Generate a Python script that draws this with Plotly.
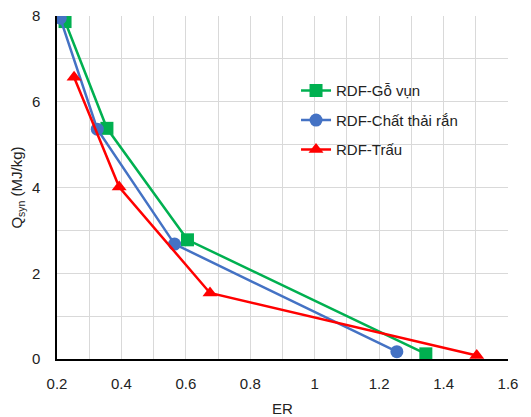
import plotly.graph_objects as go

er_go = [0.225, 0.355, 0.605, 1.345]
q_go = [7.87, 5.38, 2.78, 0.12]
er_ct = [0.21, 0.325, 0.565, 1.255]
q_ct = [7.95, 5.36, 2.68, 0.17]
er_tr = [0.253, 0.393, 0.675, 1.503]
q_tr = [6.57, 4.01, 1.54, 0.08]

names = ["RDF-Gỗ vụn", "RDF-Chất thải rắn", "RDF-Trấu"]
colors = ["#00b050", "#4472c4", "#ff0000"]
symbols = ["square", "circle", "triangle-up"]

fig = go.Figure()
for i, (x, y) in enumerate([(er_go, q_go), (er_ct, q_ct), (er_tr, q_tr)]):
    fig.add_trace(go.Scatter(
        x=x, y=y, name=names[i], mode="lines+markers",
        line=dict(color=colors[i], width=2.5),
        marker=dict(symbol=symbols[i], size=13, color=colors[i]),
        legendgroup=str(i),
    ))

font = "Liberation Sans"
fig.update_layout(
    width=531, height=417,
    margin=dict(l=57, r=23, t=16, b=58),
    paper_bgcolor="white", plot_bgcolor="white",
    font=dict(family=font, size=15, color="#222"),
    showlegend=True,
    legend=dict(x=0.53, y=0.83, xanchor="left", yanchor="top",
                bgcolor="rgba(255,255,255,0)", traceorder="grouped",
                tracegroupgap=7, font=dict(size=15, color="#222")),
    xaxis=dict(range=[0.2, 1.6], dtick=0.2, tick0=0.2, automargin=False,
               showgrid=True, gridcolor="#d9d9d9", gridwidth=1,
               minor=dict(dtick=0.1, showgrid=True, gridcolor="#d9d9d9"),
               showline=True, linecolor="black", linewidth=1.5,
               zeroline=False, ticks="", ticklabelstandoff=10,
               tickfont=dict(size=15),
               title=dict(text="ER", font=dict(size=15), standoff=16)),
    yaxis=dict(range=[0, 8], dtick=2, automargin=False,
               showgrid=True, gridcolor="#d9d9d9",
               minor=dict(dtick=1, showgrid=True, gridcolor="#d9d9d9"),
               showline=True, linecolor="black", linewidth=1.5,
               zeroline=False, ticks="", ticklabelstandoff=12,
               tickfont=dict(size=15),
               title=dict(text="Q<sub>syn</sub> (MJ/kg)", font=dict(size=15), standoff=6)),
)
fig.write_html("out.html")
